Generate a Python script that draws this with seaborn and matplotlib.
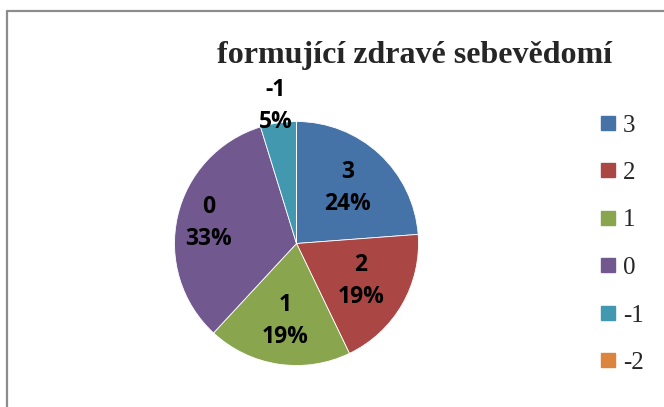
import numpy as np
import matplotlib
matplotlib.use("Agg")
import matplotlib.pyplot as plt
from matplotlib.lines import Line2D
import seaborn as sns

# data
categories = ["3", "2", "1", "0", "-1", "-2"]
counts = [5, 4, 4, 7, 1, 0]
pct_labels = ["24%", "19%", "19%", "33%", "5%", "0%"]
colors = ["#4572A7", "#AA4643", "#89A54E", "#71588F", "#4198AF", "#DB843D"]
title = "formující zdravé sebevědomí"
label_dist = [0.62, 0.61, 0.64, 0.74, 1.14, 0.0]

sns.set_theme(style="white")
plt.rcParams["font.family"] = ["Liberation Serif", "DejaVu Serif"]

W, H = 664, 407
fig = plt.figure(figsize=(W / 100, H / 100), dpi=100)

# border (top & left visible, rest cropped)
fig.add_artist(Line2D([6.5 / W, 6.5 / W], [0, 1 - 10.5 / H], transform=fig.transFigure,
                      color="#8C8C8C", lw=1.6))
fig.add_artist(Line2D([6.5 / W, 1], [1 - 10.5 / H, 1 - 10.5 / H], transform=fig.transFigure,
                      color="#8C8C8C", lw=1.6))

cx, cy, R = 296.5, 243.5, 122
ax = fig.add_axes([(cx - R) / W, 1 - (cy + R) / H, 2 * R / W, 2 * R / H])
pal = sns.color_palette(colors)
wedges, _ = ax.pie(counts, colors=pal, startangle=90, counterclock=False, radius=1,
                   wedgeprops=dict(edgecolor="white", linewidth=0.6))
ax.set_xlim(-1, 1)
ax.set_ylim(-1, 1)
ax.set_aspect("equal")
ax.axis("off")

for w, cat, pct, d, c in zip(wedges, categories, pct_labels, label_dist, counts):
    if c == 0:
        continue
    ang = np.deg2rad((w.theta1 + w.theta2) / 2)
    ax.text(d * np.cos(ang), d * np.sin(ang), f"{cat}\n{pct}", ha="center", va="center",
            fontsize=16.5, fontweight="bold", family=["Open Sans", "DejaVu Sans"],
            linespacing=1.45, clip_on=False, color="black")

fig.text(415 / W, 1 - 55 / H, title, ha="center", va="center", fontsize=23,
         fontweight="bold", family=["Liberation Serif", "DejaVu Serif"])

handles = [Line2D([], [], marker="s", linestyle="none", markersize=10.5,
                  markerfacecolor=col, markeredgecolor=col) for col in pal]
leg = fig.legend(handles, categories, loc="center left",
                 bbox_to_anchor=(599 / W, 1 - 244 / H), frameon=False,
                 fontsize=18, labelspacing=1.0, handlelength=0.7,
                 handletextpad=0.25, borderpad=0, borderaxespad=0)

fig.savefig("out.png", dpi=100, facecolor="white")
